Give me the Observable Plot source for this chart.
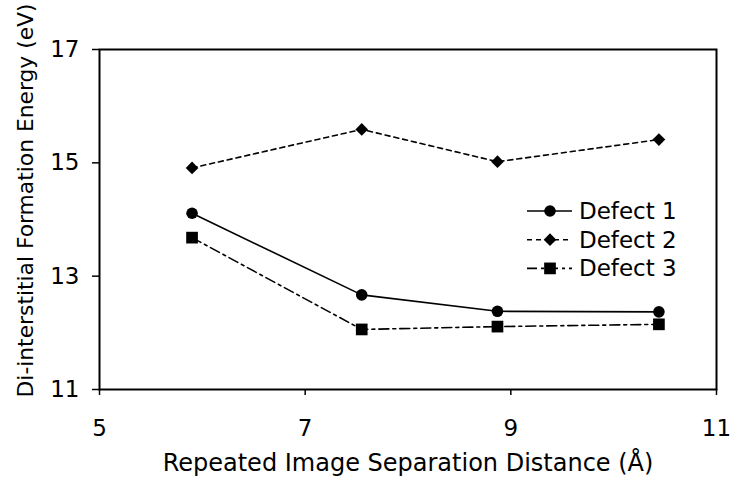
<!DOCTYPE html>
<html>
<head>
<meta charset="utf-8">
<script src="https://cdn.jsdelivr.net/npm/d3@7"></script>
<script src="https://cdn.jsdelivr.net/npm/@observablehq/plot@0.6"></script>
<style>
  html, body { margin: 0; padding: 0; background: #fff; }
</style>
</head>
<body>
<div id="chart"></div>
<script>
// Data
const separation = [5.90, 7.55, 8.87, 10.44];
const defect1 = [14.11, 12.67, 12.38, 12.37];
const defect2 = [14.91, 15.59, 15.02, 15.41];
const defect3 = [13.68, 12.06, 12.11, 12.15];
const seriesNames = ["Defect 1", "Defect 2", "Defect 3"];
const xTicks = [5, 7, 9, 11];
const yTicks = [11, 13, 15, 17];
const xLabel = "Repeated Image Separation Distance (Å)";
const yLabel = "Di-interstitial Formation Energy (eV)";

// Styles (not data)
const styles = {
  "Defect 1": {dash: null, symbol: "circle", r: 5.8},
  "Defect 2": {dash: "5,4", symbol: "diamond2", r: 5.7},
  "Defect 3": {dash: "10,4,3,4", symbol: "square", r: 6.6}
};

const seriesValues = [defect1, defect2, defect3];
const rows = seriesNames.flatMap((name, i) =>
  separation.map((x, j) => ({series: name, x, y: seriesValues[i][j]}))
);

const FONT = "DejaVu Sans, Verdana, sans-serif";
const FS = 23;

function legendMark(index, scales, values, dims) {
  const svg = d3.create("svg:g");
  const x0 = 527, x1 = 572, xs = 550, xt = 579, y0 = 211, dy = 28.7;
  seriesNames.forEach((name, i) => {
    const st = styles[name];
    const y = y0 + i * dy;
    const line = svg.append("line")
      .attr("x1", x0).attr("x2", x1).attr("y1", y).attr("y2", y)
      .attr("stroke", "black").attr("stroke-width", 1.6);
    if (st.dash) line.attr("stroke-dasharray", st.dash);
    const symType = st.symbol === "circle" ? d3.symbolCircle
      : st.symbol === "square" ? d3.symbolSquare : d3.symbolDiamond2;
    svg.append("path")
      .attr("d", d3.symbol(symType, Math.PI * st.r * st.r)())
      .attr("transform", `translate(${xs},${y})`)
      .attr("fill", "black");
    svg.append("text")
      .attr("x", xt).attr("y", y).attr("dy", "0.35em")
      .attr("text-anchor", "start")
      .attr("font-family", FONT).attr("font-size", FS)
      .attr("fill", "black")
      .text(name);
  });
  return svg.node();
}

const chart = Plot.plot({
  width: 733,
  height: 479,
  marginLeft: 99,
  marginRight: 17,
  marginTop: 49,
  marginBottom: 90,
  style: {fontFamily: FONT, fontSize: FS + "px", color: "black", background: "white"},
  x: {domain: [5, 11]},
  y: {domain: [11, 17]},
  marks: [
    Plot.axisX({ticks: xTicks, tickFormat: d3.format("d"), tickSize: 6, tickPadding: 24, label: null, fontSize: FS, strokeWidth: 1.5}),
    Plot.axisY({ticks: yTicks, tickFormat: d3.format("d"), tickSize: 7, tickPadding: 13, label: null, fontSize: FS, strokeWidth: 1.5}),
    ...seriesNames.map(name => Plot.line(rows.filter(d => d.series === name), {
      x: "x", y: "y", stroke: "black", strokeWidth: 1.6,
      strokeDasharray: styles[name].dash || undefined
    })),
    ...seriesNames.map(name => Plot.dot(rows.filter(d => d.series === name), {
      x: "x", y: "y", fill: "black", stroke: "none",
      symbol: styles[name].symbol, r: styles[name].r
    })),
    Plot.frame({stroke: "black", strokeWidth: 2}),
    Plot.text([xLabel], {text: d => d, frameAnchor: "bottom", dy: 74, fontSize: 24, lineAnchor: "middle", textAnchor: "middle", fill: "black"}),
    Plot.text([yLabel], {text: d => d, frameAnchor: "left", rotate: -90, dx: -73, dy: -19, fontSize: 21.8, lineAnchor: "middle", textAnchor: "middle", fill: "black"}),
    legendMark
  ]
});

document.getElementById("chart").appendChild(chart);
</script>
</body>
</html>
